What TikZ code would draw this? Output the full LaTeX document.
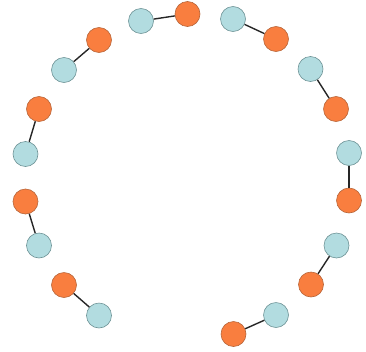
\documentclass[tikz,border=0pt]{standalone}
\definecolor{lb}{HTML}{B2DCE0}
\definecolor{lbd}{HTML}{6F9497}
\definecolor{og}{HTML}{F97E3F}
\definecolor{ogd}{HTML}{B8663A}
\begin{document}
\begin{tikzpicture}[x=1pt,y=-1pt,
  bnode/.style={circle,minimum size=25pt,inner sep=0pt,fill=lb,draw=lbd,line width=0.6pt},
  onode/.style={circle,minimum size=25pt,inner sep=0pt,fill=og,draw=ogd,line width=0.6pt},
  link/.style={line width=1.4pt,draw=black!85}]
\useasboundingbox (0,0) rectangle (366,351);
\node[bnode] (b1) at (141,21) {};   \node[onode] (o1) at (187.5,14) {};
\node[bnode] (b2) at (233,19) {};   \node[onode] (o2) at (276,39) {};
\node[bnode] (b3) at (310.5,69) {}; \node[onode] (o3) at (336,109) {};
\node[bnode] (b4) at (349,153) {};  \node[onode] (o4) at (349,200.5) {};
\node[bnode] (b5) at (336.5,245.5) {}; \node[onode] (o5) at (311,284.5) {};
\node[bnode] (b6) at (276,315) {};  \node[onode] (o6) at (233.5,334) {};
\node[bnode] (b7) at (99,315.5) {}; \node[onode] (o7) at (64,285) {};
\node[bnode] (b8) at (39,245.5) {}; \node[onode] (o8) at (25.5,201.5) {};
\node[bnode] (b9) at (25.5,154) {}; \node[onode] (o9) at (39,109) {};
\node[bnode] (b10) at (64,70) {};   \node[onode] (o10) at (99,40) {};
\foreach \i in {1,...,10} { \draw[link] (b\i) -- (o\i); }
\end{tikzpicture}
\end{document}
